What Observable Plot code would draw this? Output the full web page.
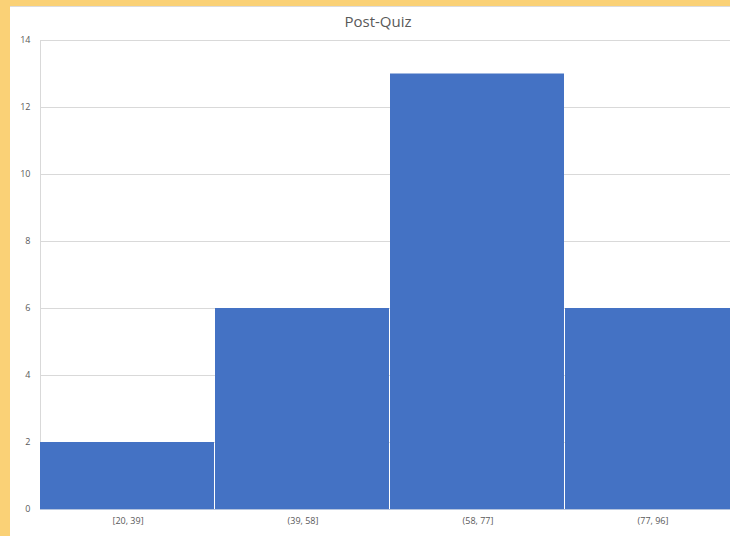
<!DOCTYPE html>
<html><head><meta charset="utf-8">
<script src="https://cdn.jsdelivr.net/npm/d3@7"></script>
<script src="https://cdn.jsdelivr.net/npm/@observablehq/plot@0.6"></script>
<style>
html,body{margin:0;padding:0;width:730px;height:536px;overflow:hidden;background:#FAD176;}
#card{position:absolute;left:10px;top:6px;width:720px;height:530px;background:#fff;border-top:1px solid #dcdcdc;overflow:hidden;}
#title{position:absolute;left:0;top:4px;width:736px;text-align:center;font:15px "Open Sans",sans-serif;color:#595959;}
#chart{position:absolute;left:0;top:-1px;width:740px;}
</style></head>
<body>
<div id="card"><div id="title">Post-Quiz</div><div id="chart"></div></div>
<script>
const bins = ["[20, 39]", "(39, 58]", "(58, 77]", "(77, 96]"];
const counts = [2, 6, 13, 6];
const yTicks = [0, 2, 4, 6, 8, 10, 12, 14];
const data = bins.map((b, i) => ({bin: b, count: counts[i]}));
const chart = Plot.plot({
  width: 730, height: 530,
  marginLeft: 30, marginRight: 0, marginTop: 34, marginBottom: 27,
  style: {fontFamily: "'Open Sans', sans-serif", fontSize: "9px", color: "#595959", background: "transparent", maxWidth: "none"},
  x: {domain: bins, padding: 0, label: null, tickSize: 0, tickPadding: 8},
  y: {domain: [0, 14], ticks: yTicks, label: null, tickSize: 0, tickPadding: 10},
  marks: [
    Plot.gridY(yTicks, {stroke: "#d9d9d9", strokeOpacity: 1}),
    Plot.frame({stroke: "#d9d9d9"}),
    Plot.barY(data, {x: "bin", y: "count", fill: "#4472C4", insetRight: 1}),
    Plot.ruleY([0], {stroke: "#b4c3de"})
  ]
});
document.getElementById("chart").appendChild(chart);
</script>
</body></html>
